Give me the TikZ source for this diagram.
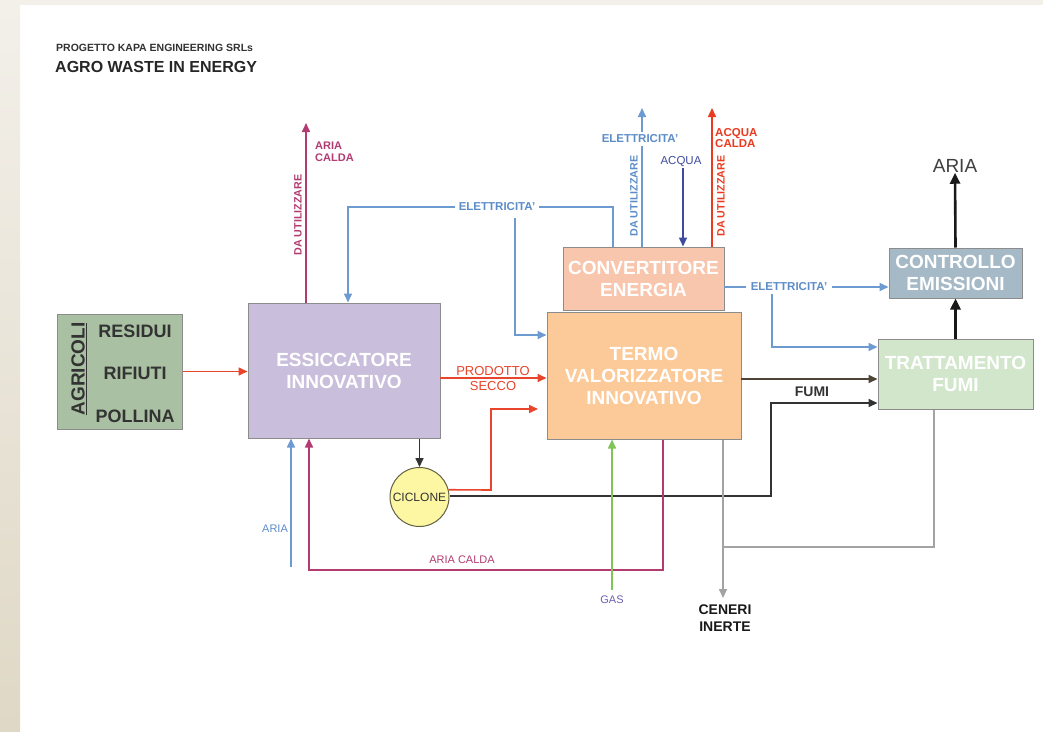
\documentclass[tikz,border=0pt]{standalone}
\usepackage{fontspec}
\setmainfont{Liberation Sans}
\usetikzlibrary{arrows.meta,calc}
\definecolor{agrfill}{HTML}{A9C0A2}
\definecolor{essfill}{HTML}{C9BFDC}
\definecolor{convfill}{HTML}{F8C6AD}
\definecolor{termofill}{HTML}{FCCA98}
\definecolor{ctrlfill}{HTML}{A5B9C7}
\definecolor{trattfill}{HTML}{D2E6CC}
\definecolor{cicfill}{HTML}{FDF6A2}
\definecolor{boxline}{HTML}{8C8C8C}
\definecolor{redln}{HTML}{E8452C}
\definecolor{magln}{HTML}{B23C72}
\definecolor{blueln}{HTML}{6D9BD1}
\definecolor{bluetx}{HTML}{5D8DC8}
\definecolor{acqln}{HTML}{3E4C9E}
\definecolor{hotred}{HTML}{EA3B1F}
\definecolor{gasln}{HTML}{7FC556}
\definecolor{gastx}{HTML}{6A62B0}
\definecolor{greyln}{HTML}{A3A3A3}
\definecolor{darkln}{HTML}{333333}
\definecolor{stripA}{HTML}{F3F0EA}
\definecolor{stripB}{HTML}{DFD8C6}
\tikzset{
  box/.style={draw=boxline, line width=1pt, rectangle, inner sep=0pt, align=center,
    text=white, font=\bfseries\fontsize{19}{22}\selectfont},
  tip/.style={-{Triangle[length=9pt,width=8pt]}},
  bigtip/.style={-{Triangle[length=11pt,width=10pt]}},
  ln/.style={line width=1.6pt},
  lbl/.style={inner sep=1pt, align=center},
  smallb/.style={font=\bfseries\fontsize{11.5}{12.5}\selectfont},
  smallr/.style={font=\fontsize{11.5}{12.5}\selectfont},
}
\begin{document}
\begin{tikzpicture}[x=1pt,y=-1pt]
\useasboundingbox (0,0) rectangle (1043,731);
\fill[white] (0,0) rectangle (1043,731);
\fill[stripA] (0,0) rectangle (1043,5);
\shade[top color=stripA, bottom color=stripB] (0,0) rectangle (20,731);

% titles
\node[anchor=west, inner sep=0pt, text=darkln, font=\bfseries\fontsize{10.5}{12}\selectfont] (t1) at (56,48) {PROGETTO KAPA ENGINEERING SRLs};
\node[anchor=west, inner sep=0pt, text=black!85, font=\bfseries\fontsize{16}{18}\selectfont] (t2) at (55,67) {AGRO WASTE IN ENERGY};

% boxes
\node[box, fill=agrfill, minimum width=125pt, minimum height=115pt] (agr) at (119.5,371.5) {};
\node[text=darkln, font=\bfseries\fontsize{19}{22}\selectfont, rotate=90, inner sep=0pt] (agrl) at (79,369) {\underline{AGRICOLI}};
\node[text=darkln, font=\bfseries\fontsize{18}{20}\selectfont, inner sep=0pt] (res) at (135,331) {RESIDUI};
\node[text=darkln, font=\bfseries\fontsize{18}{20}\selectfont, inner sep=0pt] (rif) at (135,373) {RIFIUTI};
\node[text=darkln, font=\bfseries\fontsize{18}{20}\selectfont, inner sep=0pt] (pol) at (135,416) {POLLINA};

\node[box, fill=essfill, minimum width=192pt, minimum height=135pt] (ess) at (344,370.5) {ESSICCATORE\\INNOVATIVO};
\node[box, fill=convfill, minimum width=161pt, minimum height=63pt] (conv) at (643.5,278.5) {CONVERTITORE\\ENERGIA};
\node[box, fill=termofill, minimum width=194pt, minimum height=127pt] (termo) at (644,375.5) {TERMO\\VALORIZZATORE\\INNOVATIVO};
\node[box, fill=ctrlfill, minimum width=133pt, minimum height=50pt] (ctrl) at (955.5,273) {CONTROLLO\\EMISSIONI};
\node[box, fill=trattfill, minimum width=155pt, minimum height=70pt] (tratt) at (955.5,374) {TRATTAMENTO\\FUMI};
\node[circle, draw=boxline!80!yellow!60!black, line width=1pt, fill=cicfill, minimum size=59pt, inner sep=0pt,
  font=\fontsize{12}{14}\selectfont, text=darkln] (cic) at (419.5,497) {CICLONE};

% agricoli -> essiccatore
\draw[ln, redln, tip] (agr.east) -- (agr.east -| ess.west);

% aria calda up from essiccatore
\coordinate (acTop) at (306,123);
\draw[ln, magln, tip] (ess.north -| acTop) -- (acTop);
\node[lbl, anchor=west, align=left, text=magln, font=\bfseries\fontsize{11}{12.5}\selectfont] (acl) at (314,152) {ARIA\\CALDA};
\node[lbl, text=magln, font=\bfseries\fontsize{10.7}{12}\selectfont, rotate=90, inner sep=0pt] (acdu) at (298,215) {DA UTILIZZARE};

% electricity loop to essiccatore and termo
\coordinate (e1) at (613,207);
\coordinate (e2) at (348,207);
\draw[ln, blueln, tip] (conv.north -| e1) -- (e1) -- (e2) -- (ess.north -| e2);
\node[lbl, fill=white, text=bluetx, smallb, inner xsep=4pt] (el1) at (497,207) {ELETTRICITA'};
\coordinate (b1) at (515,218);
\coordinate (b2) at (515,335);
\draw[ln, blueln, tip] (b1) -- (b2) -- (b2 -| termo.west);

% electricity up from converter
\coordinate (eu) at (642,108);
\draw[ln, blueln, tip] (conv.north -| eu) -- (eu);
\node[lbl, fill=white, text=bluetx, smallb, inner ysep=3pt] (el2) at (640,139) {ELETTRICITA'};
\node[lbl, text=bluetx, font=\bfseries\fontsize{10.7}{12}\selectfont, rotate=90, inner sep=0pt] (eldu) at (634,196) {DA UTILIZZARE};

% acqua
\node[lbl, text=acqln, smallr] (acq) at (681,162) {ACQUA};
\draw[ln, acqln, tip] (acq.south -| 683,0) -- (conv.north -| 683,0);

% acqua calda
\coordinate (hu) at (712,108);
\draw[ln, hotred, tip] (conv.north -| hu) -- (hu);
\node[lbl, anchor=west, align=left, text=hotred, font=\bfseries\fontsize{11.5}{11.5}\selectfont] (acql) at (714,138) {ACQUA\\CALDA};
\node[lbl, text=hotred, font=\bfseries\fontsize{10.7}{12}\selectfont, rotate=90, inner sep=0pt] (hdu) at (721,196) {DA UTILIZZARE};

% electricity right to controllo + branch to trattamento
\coordinate (er) at (724,287);
\draw[ln, blueln, tip] (er) -- (er -| ctrl.west);
\node[lbl, fill=white, text=bluetx, smallb, inner xsep=5pt] (el3) at (789,287) {ELETTRICITA'};
\coordinate (c1) at (772,294);
\coordinate (c2) at (772,347);
\draw[ln, blueln, tip] (c1) -- (c2) -- (c2 -| tratt.west);

% controllo -> aria
\node[inner sep=0pt, text=black!75, font=\fontsize{19}{22}\selectfont] (aria) at (955,166) {ARIA};
\draw[line width=2.6pt, black!90, bigtip] (ctrl.north) -- (aria.south);
\draw[line width=2.6pt, black!90, bigtip] (tratt.north) -- (ctrl.south);

% fumi
\coordinate (f1) at (741,379);
\draw[line width=1.8pt, darkln!80!brown, tip] (f1) -- (f1 -| tratt.west);
\node[inner sep=0pt, text=darkln, font=\bfseries\fontsize{14}{16}\selectfont] (fumi) at (812,392) {FUMI};

% ciclone -> trattamento
\coordinate (g1) at (771,496);
\coordinate (g2) at (771,403);
\draw[line width=1.8pt, darkln, tip] (cic.east |- g1) -- (g1) -- (g2) -- (g2 -| tratt.west);

% essiccatore -> ciclone
\draw[line width=1.6pt, darkln, tip] (ess.south -| cic.north) -- (cic.north);

% ciclone -> termo (red)
\coordinate (r1) at (491,490);
\coordinate (r2) at (491,409);
\coordinate (r3) at (538,409);
\draw[ln, redln, tip] (cic.14) -- (r1) -- (r2) -- (r3);

% prodotto secco
\coordinate (p1) at (440,378);
\draw[ln, redln, tip] (p1) -- (p1 -| termo.west);
\node[inner sep=0pt, text=redln, font=\fontsize{13}{14}\selectfont] (prod) at (493,371) {PRODOTTO};
\node[inner sep=0pt, text=redln, font=\fontsize{13}{14}\selectfont] (secco) at (493,386) {SECCO};

% aria in (blue)
\coordinate (a1) at (291,567);
\draw[ln, blueln, tip] (a1) -- (a1 |- ess.south);
\node[inner sep=0pt, text=bluetx, font=\fontsize{11}{12}\selectfont] (arial) at (275,529) {ARIA};

% aria calda return
\coordinate (m1) at (663,570);
\coordinate (m2) at (309,570);
\draw[ln, magln, tip] (termo.south -| m1) -- (m1) -- (m2) -- (m2 |- ess.south);
\node[inner sep=0pt, text=magln, font=\fontsize{11}{12}\selectfont] (acr) at (462,560) {ARIA CALDA};

% gas
\node[inner sep=0pt, text=gastx, font=\fontsize{11}{12}\selectfont] (gas) at (612,600) {GAS};
\draw[ln, gasln, tip] ($(gas.north)+(0,-6)$) -- (gas.north |- termo.south);

% ceneri
\node[inner sep=0pt, text=black!90, align=center, font=\bfseries\fontsize{14}{17}\selectfont] (cen) at (725,618) {CENERI\\INERTE};
\coordinate (k1) at (723,598);
\draw[ln, greyln, tip] (termo.south -| k1) -- (k1);

% trattamento -> ceneri line
\coordinate (q1) at (934,547);
\coordinate (q2) at (723,547);
\draw[ln, greyln] (tratt.south -| q1) -- (q1) -- (q2);
\end{tikzpicture}
\end{document}
